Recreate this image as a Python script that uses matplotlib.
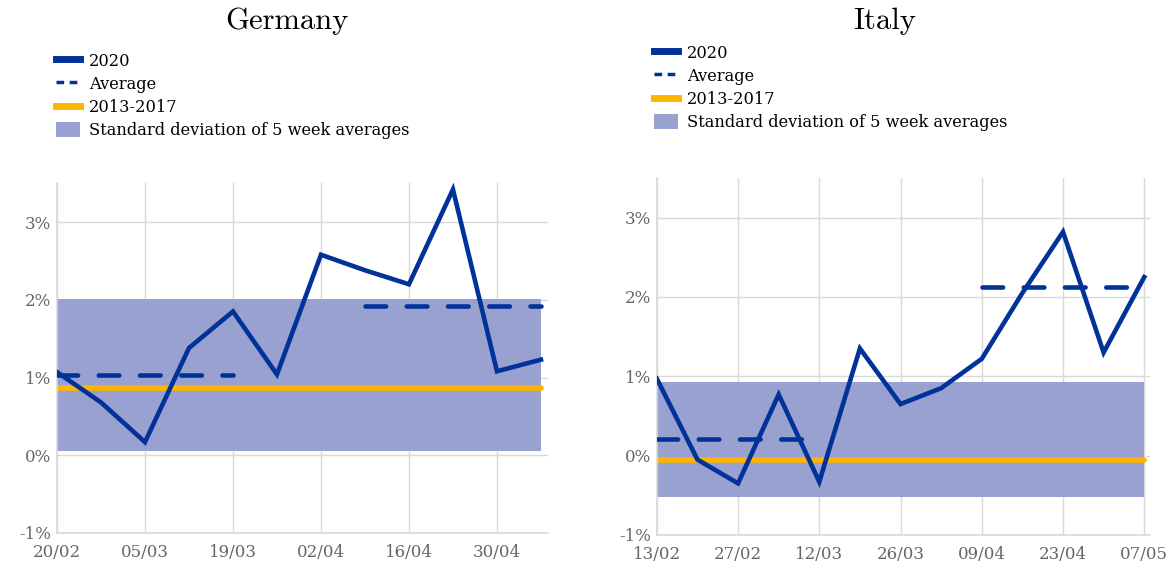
import matplotlib
matplotlib.use('Agg')
import matplotlib.pyplot as plt
from matplotlib.lines import Line2D
from matplotlib.patches import Patch

# weekly observations (in %)
de_weeks = ['20/02', '27/02', '05/03', '12/03', '19/03', '26/03',
            '02/04', '09/04', '16/04', '23/04', '30/04', '07/05']
de_2020 = [1.07, 0.68, 0.17, 1.38, 1.85, 1.04, 2.58, 2.38, 2.20, 3.42, 1.08, 1.23]
de_avg1, de_avg1_span = 1.03, (0, 4)
de_avg2, de_avg2_span = 1.92, (7, 11)
de_hist = 0.87
de_band = (0.05, 2.01)

it_weeks = ['13/02', '20/02', '27/02', '05/03', '12/03', '19/03', '26/03',
            '02/04', '09/04', '16/04', '23/04', '30/04', '07/05']
it_2020 = [0.97, -0.05, -0.35, 0.77, -0.33, 1.35, 0.65, 0.85, 1.22, 2.05, 2.82, 1.30, 2.25]
it_avg1, it_avg1_span = 0.21, (0, 4)
it_avg2, it_avg2_span = 2.12, (8, 12)
it_hist = -0.05
it_band = (-0.52, 0.93)

yticks = [-1, 0, 1, 2, 3]
ytick_labels = ['-1%', '0%', '1%', '2%', '3%']

BLUE = '#003299'
YELLOW = '#FFB400'
BAND = '#98A1CF'
GRID = '#d9d9d9'
TXT = '#666666'

plt.rcParams['font.family'] = ['DejaVu Serif']

fig = plt.figure(figsize=(11.75, 5.69), dpi=100)


def panel(rect, title, weeks, vals, avgs, hist, band, title_x, leg_anchor):
    ax = fig.add_axes(rect)
    x = list(range(len(weeks)))
    ax.fill_between([x[0], x[-1]], band[0], band[1], color=BAND, lw=0, zorder=1)
    ax.plot([x[0], x[-1]], [hist, hist], color=YELLOW, lw=4, solid_capstyle='round', zorder=2)
    for val, (a, b) in avgs:
        ax.plot([a, b], [val, val], color=BLUE, lw=3.3, ls=(0, (4.5, 4.5)),
                dash_capstyle='round', zorder=3)
    ax.plot(x, vals, color=BLUE, lw=3.3, solid_joinstyle='miter', zorder=4)

    ax.set_ylim(-1, 3.5)
    ax.set_xlim(x[0], x[-1] + 0.15)
    ax.set_yticks(yticks)
    ax.set_yticklabels(ytick_labels)
    ax.set_xticks(x[::2])
    ax.set_xticklabels(weeks[::2])
    ax.tick_params(length=0, labelsize=12, colors=TXT)
    ax.tick_params(axis='x', pad=8)
    ax.tick_params(axis='y', pad=4)
    ax.grid(True, color=GRID, lw=1, zorder=0)
    ax.set_axisbelow(True)
    for s in ['top', 'right']:
        ax.spines[s].set_visible(False)
    for s in ['left', 'bottom']:
        ax.spines[s].set_color(GRID)
        ax.spines[s].set_linewidth(1.2)

    fig.text(title_x, 0.963, title, family='cmr10', fontsize=22, ha='center', va='center')

    handles = [
        Line2D([], [], color=BLUE, lw=5),
        Line2D([], [], color=BLUE, lw=2.5, ls=(0, (2.2, 1.6))),
        Line2D([], [], color=YELLOW, lw=5),
        Patch(facecolor=BAND, edgecolor='none'),
    ]
    labels = ['2020', 'Average', '2013-2017', 'Standard deviation of 5 week averages']
    fig.legend(handles, labels, loc='upper left', bbox_to_anchor=leg_anchor,
               frameon=False, fontsize=11.7, handlelength=1.5, handleheight=1.0,
               handletextpad=0.55, labelspacing=0.38, borderaxespad=0)
    return ax


panel([0.0485, 0.0633, 0.4175, 0.6147], 'Germany', de_weeks, de_2020,
      [(de_avg1, de_avg1_span), (de_avg2, de_avg2_span)], de_hist, de_band,
      0.244, (0.042, 0.919))
panel([0.559, 0.0598, 0.42, 0.6275], 'Italy', it_weeks, it_2020,
      [(it_avg1, it_avg1_span), (it_avg2, it_avg2_span)], it_hist, it_band,
      0.753, (0.551, 0.933))

fig.savefig('out.png', dpi=100)
